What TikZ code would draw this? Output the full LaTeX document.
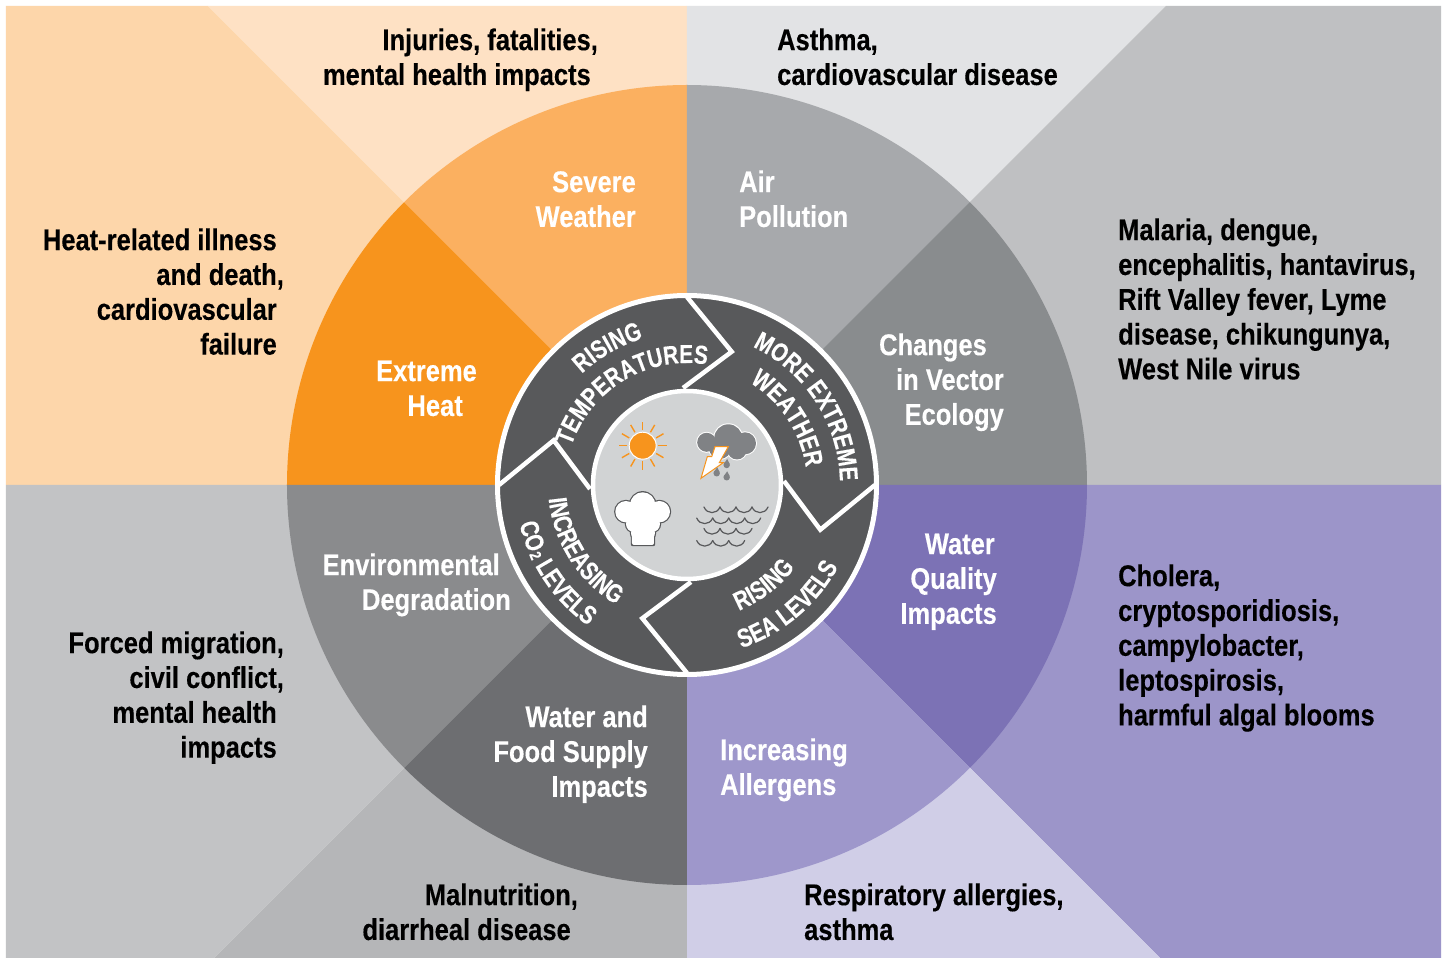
\documentclass[tikz,border=0pt]{standalone}
\usepackage{fontspec}
\usetikzlibrary{decorations.text}
\newfontface\cond[FakeStretch=0.85,FakeBold=0.25]{Liberation Sans Bold}
\newfontface\condring[FakeStretch=0.8,FakeBold=0.2]{Liberation Sans Bold}
\newcommand\lblfont{\cond\fontsize{30}{34.8}\selectfont}
\newcommand\ringfont{\condring\fontsize{26}{26}\selectfont}
\definecolor{ringdark}{HTML}{58595B}
\definecolor{sunorange}{HTML}{F7941D}
\definecolor{cloudgrey}{HTML}{808285}
\tikzset{
  lbl/.style={font=\lblfont,inner sep=0pt,text=black},
  inl/.style={font=\lblfont,inner sep=0pt,text=white},
  lblr/.style={lbl,anchor=north east,align=right},
  lbll/.style={lbl,anchor=north west,align=left},
  inlr/.style={inl,anchor=north east,align=right},
  inll/.style={inl,anchor=north west,align=left},
  wline/.style={draw=white,line width=4.5pt,miter limit=10},
  ring/.style={decorate,decoration={text along path,text align=center,text color=white,text={|\ringfont|#1}}},
  wavel/.style={draw=ringdark,line width=1.2pt,line cap=round}
}
\newcommand\sector[3]{\fill[#3] (0,0) -- (#1:400) arc[start angle=#1,end angle=#2,radius=400] -- cycle;}
\newcommand\waverow[3]{\foreach \i in {1,...,#3}{\draw[wavel] ({#1+16*(\i-1)},#2) .. controls ({#1+16*(\i-1)+3},{#2-7.5}) and ({#1+16*\i-3},{#2-7.5}) .. ({#1+16*\i},#2);}}
\begin{document}
\begin{tikzpicture}[x=1pt,y=1pt]
\useasboundingbox (-687,-473) rectangle (757,485);
\fill[white] (-687,-473) rectangle (757,485);
% outer panels
\fill[fill={rgb,255:red,253;green,214;blue,170}] (-681,479) -- (-479,479) -- (0,0) -- (-681,0) -- cycle;
\fill[fill={rgb,255:red,254;green,225;blue,196}] (-479,479) -- (0,479) -- (0,0) -- cycle;
\fill[fill={rgb,255:red,226;green,227;blue,229}] (0,479) -- (479,479) -- (0,0) -- cycle;
\fill[fill={rgb,255:red,191;green,192;blue,194}] (479,479) -- (754,479) -- (754,0) -- (0,0) -- cycle;
\fill[fill={rgb,255:red,156;green,149;blue,201}] (754,0) -- (754,-473) -- (473,-473) -- (0,0) -- cycle;
\fill[fill={rgb,255:red,208;green,206;blue,231}] (473,-473) -- (0,-473) -- (0,0) -- cycle;
\fill[fill={rgb,255:red,181;green,182;blue,184}] (0,-473) -- (-473,-473) -- (0,0) -- cycle;
\fill[fill={rgb,255:red,194;green,195;blue,197}] (-473,-473) -- (-681,-473) -- (-681,0) -- (0,0) -- cycle;
% big disc sectors
\sector{135}{180}{sunorange}
\definecolor{sevw}{HTML}{FBB060}\sector{90}{135}{sevw}
\definecolor{airp}{HTML}{A7A9AC}\sector{45}{90}{airp}
\definecolor{vect}{HTML}{898C8E}\sector{0}{45}{vect}
\definecolor{watq}{HTML}{7C72B5}\sector{-45}{0}{watq}
\definecolor{alle}{HTML}{9E97CB}\sector{-90}{-45}{alle}
\definecolor{food}{HTML}{6D6E71}\sector{-135}{-90}{food}
\definecolor{envd}{HTML}{8A8B8D}\sector{-180}{-135}{envd}
% ring
\filldraw[fill=ringdark,draw=white,line width=5pt] (0,0) circle[radius=189.5];
\foreach \r in {0,-90,-180,-270}{
  \draw[wline,rotate=\r] (0,188) -- (44.7,133.3) -- (-4,97);
}
\filldraw[fill={rgb,255:red,209;green,211;blue,212},draw=white,line width=4.5pt] (0,0) circle[radius=94];
% ring text
\path[ring={RISING}] (0,0) ++(155:153) arc[start angle=155,end angle=85,radius=153];
\path[ring={TEMPERATURES}] (0,0) ++(175:122) arc[start angle=175,end angle=67,radius=122];
\path[ring={MORE EXTREME}] (0,0) ++(84:153) arc[start angle=84,end angle=-18,radius=153];
\path[ring={WEATHER}] (0,0) ++(70:120) arc[start angle=70,end angle=-3,radius=120];
\path[ring={RISING}] (0,0) ++(-85:136) arc[start angle=-85,end angle=-20,radius=136];
\path[ring={SEA LEVELS}] (0,0) ++(-90:172) arc[start angle=-90,end angle=-10,radius=172];
\path[ring={INCREASING}] (0,0) ++(170:139) arc[start angle=170,end angle=255,radius=139];
\path[decorate,decoration={text along path,text align=left,text color=white,text={|\ringfont|CO}}] (0,0) ++(193:172) arc[start angle=193,end angle=240,radius=172];
\node[font=\condring\fontsize{16}{16}\selectfont,text=white,rotate=-68,inner sep=0pt] (co2sub) at (205:167) {2};
\path[decorate,decoration={text along path,text align=left,text color=white,text={|\ringfont|LEVELS}}] (0,0) ++(208:172) arc[start angle=208,end angle=260,radius=172];
% sun
\begin{scope}[shift={(-44.3,39.3)}]
  \foreach \a in {0,30,...,330}{\draw[sunorange,line width=1.4pt] (\a:15.5) -- (\a:24);}
  \filldraw[fill=sunorange,draw=white,line width=1pt] (0,0) circle[radius=13.5];
\end{scope}
% storm cloud
\foreach \x/\y/\r in {41.3/46.7/14,19.7/42.7/9.5,58/41.7/11,33/37/11,50/35/9.5}{
  \fill[white] (\x,\y) circle[radius=\r+1];}
\foreach \x/\y/\r in {41.3/46.7/14,19.7/42.7/9.5,58/41.7/11,33/37/11,50/35/9.5}{
  \fill[cloudgrey] (\x,\y) circle[radius=\r];}
\filldraw[fill=white,draw=sunorange,line width=1pt,line join=miter] (28,38.3) -- (41.3,38.3) -- (32.3,22.3) -- (36.3,22.3) -- (14,6.7) -- (20.3,28.3) -- (24.7,28.3) -- cycle;
\foreach \x/\y in {29.7/11.7,39.7/20,39.7/7.7}{
  \fill[cloudgrey] (\x,\y) circle[radius=3.2];
  \fill[cloudgrey] (\x-3,\y+1) -- (\x+0.5,\y+6) -- (\x+3,\y+1) -- cycle;}
% CO2 cloud
\foreach \pass/\col/\ex in {1/ringdark/1.2,2/white/0}{
  \foreach \x/\y/\r in {-44.3/-20/12.7,-61/-26.7/10.7,-27.7/-26.7/10.7,-53/-39/8,-35/-39/8,-49/-48/7,-39/-48/7,-44.3/-34/12}{
    \fill[\col] (\x,\y) circle[radius=\r+\ex];}
  \fill[\col,rounded corners=2pt] (-55-\ex,-60-\ex) rectangle (-33+\ex,-45);
}
% waves
\waverow{17}{-22}{4}
\waverow{9.7}{-33}{4}
\waverow{17}{-43.5}{3}
\waverow{9.7}{-55.5}{3}
% outer labels
\node[lblr] (inj) at (-96,459.4) {\strut Injuries, fatalities\rlap{,}\\mental health impacts\strut};
\node[lbll] (ast) at (90,459.4) {\strut Asthma,\\cardiovascular disease\strut};
\node[lblr] (heat) at (-410,259.4) {\strut Heat-related illness\\and death\rlap{,}\\cardiovascular\\failure\strut};
\node[lbll] (mal) at (431,269.4) {\strut Malaria, dengue,\\encephalitis, hantavirus,\\Rift Valley fever, Lyme\\disease, chikungunya,\\West Nile virus\strut};
\node[lbll] (chol) at (431,-76.6) {\strut Cholera,\\cryptosporidiosis,\\campylobacter,\\leptospirosis,\\harmful algal blooms\strut};
\node[lblr] (forc) at (-410,-143.6) {\strut Forced migration\rlap{,}\\civil conflict\rlap{,}\\mental health\\impacts\strut};
\node[lblr] (maln) at (-116,-395.6) {\strut Malnutrition\rlap{,}\\diarrheal disease\strut};
\node[lbll] (resp) at (117,-395.6) {\strut Respiratory allergies,\\asthma\strut};
% inner labels
\node[inlr] (sev) at (-51,317.4) {\strut Severe\\Weather\strut};
\node[inll] (air) at (52,317.4) {\strut Air\\Pollution\strut};
\node[inlr] (vec) at (317,154.4) {\strut Changes\hspace{17pt}\strut\\in Vector\\Ecology\strut};
\node[inlr] (ext) at (-210,128.4) {\strut Extreme\\Heat\hspace{14pt}\strut};
\node[inlr] (wat) at (310,-44.6) {\strut Water\hspace{2pt}\strut\\Quality\\Impacts\strut};
\node[inll] (inc) at (33,-250.6) {\strut Increasing\\Allergens\strut};
\node[inlr] (wfs) at (-39,-217.6) {\strut Water and\\Food Supply\\Impacts\strut};
\node[inlr] (env) at (-176,-65.6) {\strut Environmental\hspace{11pt}\strut\\Degradation\strut};
\end{tikzpicture}
\end{document}
